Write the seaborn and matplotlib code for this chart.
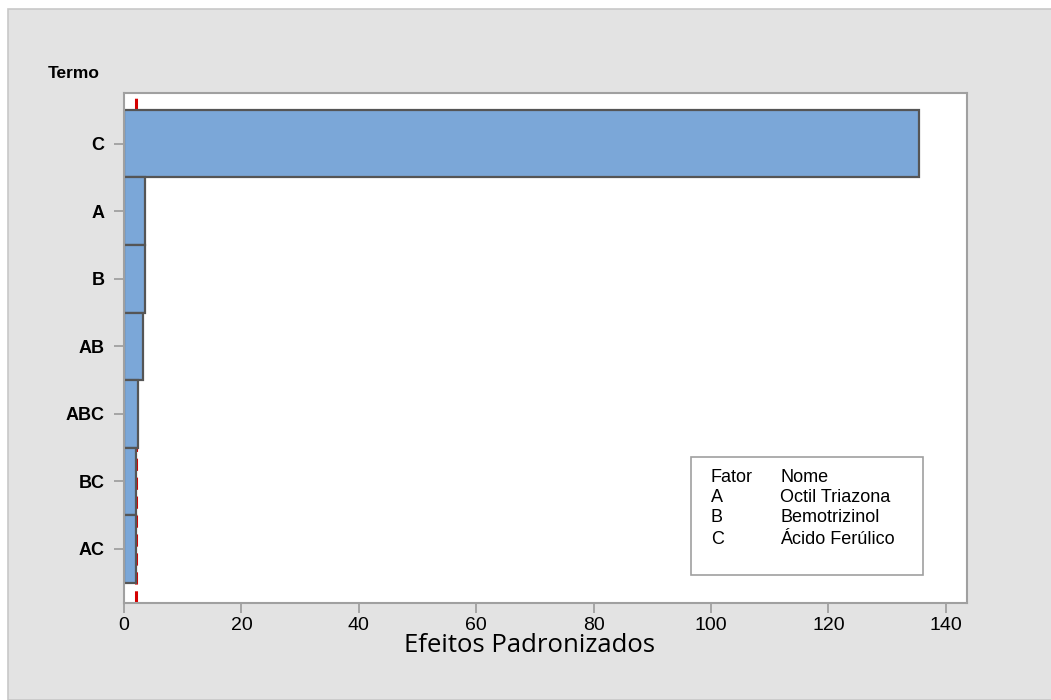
import matplotlib
matplotlib.use("Agg")
import matplotlib.pyplot as plt
from matplotlib.patches import Rectangle
import pandas as pd
import seaborn as sns

# Pareto of standardized effects
termos = ["C", "A", "B", "AB", "ABC", "BC", "AC"]
efeitos = [135.5, 3.55, 3.52, 3.22, 2.32, 2.0, 1.98]
limite = 2.12

fatores = ["A", "B", "C"]
nomes = ["Octil Triazona", "Bemotrizinol", "Ácido Ferúlico"]

df = pd.DataFrame({"Termo": termos, "Efeito": efeitos})

sns.set_theme(style="white")
plt.rcParams["font.family"] = ["Liberation Sans", "DejaVu Sans"]
plt.rcParams["text.color"] = "black"
plt.rcParams["xtick.color"] = "black"
plt.rcParams["ytick.color"] = "black"

fig = plt.figure(figsize=(10.51, 7.0), dpi=100, facecolor="white")
fig.patches.append(Rectangle((8 / 1051, 0), 1, 1 - 9 / 700, transform=fig.transFigure,
                             facecolor="#E3E3E3", edgecolor="#C8C8C8", linewidth=1.2,
                             zorder=-10))

ax = fig.add_axes([124 / 1051, 1 - 603 / 700, (967 - 124) / 1051, (603 - 93) / 700])
ax.set_facecolor("white")

ax.axvline(limite, color="#D40000", linestyle=(0, (4, 2.2)), linewidth=2.2, zorder=0.5)

sns.barplot(data=df, x="Efeito", y="Termo", order=termos, orient="h", width=1.0,
            color="#7BA7D8", saturation=1, edgecolor="#555555", linewidth=1.6, ax=ax,
            zorder=2)

ax.set_xlim(0, 143.6)
ax.set_ylim(6.8, -0.75)
ax.set_xticks([0, 20, 40, 60, 80, 100, 120, 140])
ax.tick_params(axis="both", which="both", direction="out", length=7, width=1.3,
               color="#A0A0A0", left=True, bottom=True, labelcolor="black")
ax.tick_params(axis="x", labelsize=14, pad=3)
ax.tick_params(axis="y", labelsize=13, pad=7)
for lab in ax.get_yticklabels():
    lab.set_fontweight("bold")
for s in ax.spines.values():
    s.set_color("#A0A0A0")
    s.set_linewidth(1.5)
ax.set_xlabel("")
ax.set_ylabel("")

fig.text(48 / 1051, 1 - 73 / 700, "Termo", fontsize=12.5, fontweight="bold",
         ha="left", va="center")
fig.text(529 / 1051, 1 - 646 / 700, "Efeitos Padronizados", fontsize=18.5,
         family=["Open Sans", "DejaVu Sans"], ha="center", va="center")

# factor legend box
fig.patches.append(Rectangle((691 / 1051, 1 - 575 / 700), (923 - 691) / 1051, (575 - 457) / 700,
                             transform=fig.transFigure, facecolor="white",
                             edgecolor="#A0A0A0", linewidth=1.2, zorder=5))
linhas = [("Fator", "Nome")] + list(zip(fatores, nomes))
ys = [477, 497, 518, 539]
for (f, n), y in zip(linhas, ys):
    fig.text(711 / 1051, 1 - y / 700, f, fontsize=13, ha="left", va="center", zorder=6)
    fig.text(780 / 1051, 1 - y / 700, n, fontsize=13, ha="left", va="center", zorder=6)

fig.savefig("out.png", dpi=100)
